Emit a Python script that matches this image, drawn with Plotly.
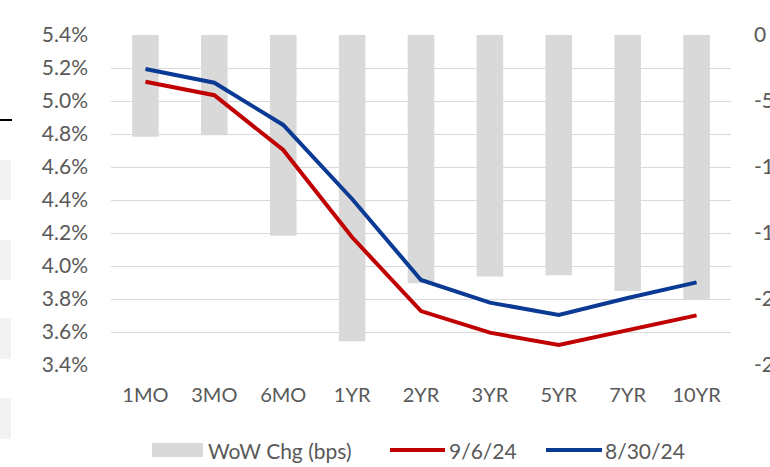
import plotly.graph_objects as go

categories = ["1MO", "3MO", "6MO", "1YR", "2YR", "3YR", "5YR", "7YR", "10YR"]
yield_0906 = [5.117, 5.035, 4.703, 4.174, 3.727, 3.596, 3.521, 3.612, 3.701]
yield_0830 = [5.194, 5.111, 4.855, 4.406, 3.915, 3.778, 3.703, 3.806, 3.901]
wow_chg_bps = [-7.7, -7.6, -15.2, -23.2, -18.8, -18.3, -18.2, -19.4, -20.0]
series_names = ["WoW Chg (bps)", "9/6/24", "8/30/24"]

pct_ticks = [3.4, 3.6, 3.8, 4.0, 4.2, 4.4, 4.6, 4.8, 5.0, 5.2, 5.4]
pct_labels = ["3.4%", "3.6%", "3.8%", "4.0%", "4.2%", "4.4%", "4.6%", "4.8%", "5.0%", "5.2%", "5.4%"]
bps_ticks = [0, -5, -10, -15, -20, -25]
bps_labels = ["0", "-5", "-10", "-15", "-20", "-25"]

FONT = "Lato, 'Open Sans', sans-serif"
GRAY = "#595959"
BAR_C = "#D9D9D9"
RED = "#C00000"
BLUE = "#0A3A94"

# pixel -> paper helpers (plot area: x 111..731, y 35..365)
L, R, T, B = 111, 731, 35, 365
def px(x):
    return (x - L) / (R - L)
def py(y):
    return (B - y) / (B - T)

fig = go.Figure()
fig.add_trace(go.Bar(
    x=categories, y=wow_chg_bps, base=0, name=series_names[0],
    marker=dict(color=BAR_C, line=dict(width=0)), yaxis="y", showlegend=False,
))
fig.add_trace(go.Scatter(
    x=categories, y=yield_0906, name=series_names[1], mode="lines",
    line=dict(color=RED, width=4), yaxis="y2", showlegend=False,
))
fig.add_trace(go.Scatter(
    x=categories, y=yield_0830, name=series_names[2], mode="lines",
    line=dict(color=BLUE, width=4), yaxis="y2", showlegend=False,
))

fig.update_layout(
    width=770, height=467,
    margin=dict(l=L, r=770 - R, t=T, b=467 - B),
    paper_bgcolor="white", plot_bgcolor="white",
    font=dict(family=FONT, size=21, color=GRAY),
    bargap=0.614,
    showlegend=False,
    xaxis=dict(type="category", showgrid=False, showline=False, ticks="", automargin=False,
               ticklabelstandoff=16, tickfont=dict(size=20, color=GRAY)),
    yaxis=dict(side="right", range=[-25, 0], tickvals=bps_ticks, ticktext=bps_labels,
               showgrid=False, zeroline=False, showline=False, ticks="", automargin=False,
               ticklabelstandoff=22, tickfont=dict(size=21, color=GRAY)),
    yaxis2=dict(side="left", overlaying="y", range=[3.4, 5.4], tickvals=pct_ticks,
                ticktext=pct_labels, showgrid=True, gridcolor="#D9D9D9",
                gridwidth=1, zeroline=False, showline=False, ticks="", automargin=False,
                ticklabelstandoff=22, tickfont=dict(size=21, color=GRAY)),
)

# manual legend
ly = py(450)
fig.add_shape(type="rect", xref="paper", yref="paper", x0=px(152), x1=px(203),
              y0=py(457), y1=py(443), line=dict(width=0), fillcolor=BAR_C)
fig.add_shape(type="line", xref="paper", yref="paper", x0=px(390), x1=px(445),
              y0=ly, y1=ly, line=dict(color=RED, width=4))
fig.add_shape(type="line", xref="paper", yref="paper", x0=px(546), x1=px(602),
              y0=ly, y1=ly, line=dict(color=BLUE, width=4))
for name, xl in zip(series_names, [206, 447, 603]):
    fig.add_annotation(text=name, xref="paper", yref="paper", x=px(xl), y=ly,
                       xanchor="left", yanchor="middle", showarrow=False,
                       font=dict(family=FONT, size=21, color=GRAY))

# cropped fragments of neighbouring content at the left edge of the screenshot
fig.add_shape(type="line", xref="paper", yref="paper", x0=px(0), x1=px(12),
              y0=py(120), y1=py(120), line=dict(color="black", width=2))
for top, bot in [(160, 200), (240, 280), (318, 359), (398, 439)]:
    fig.add_shape(type="rect", xref="paper", yref="paper", x0=px(0), x1=px(11),
                  y0=py(bot), y1=py(top), line=dict(width=0),
                  fillcolor="#F2F2F2", layer="below")

fig.write_html("out.html",
               config={"displayModeBar": False},
               post_script="document.body.style.margin='0';document.body.style.overflow='hidden';")
